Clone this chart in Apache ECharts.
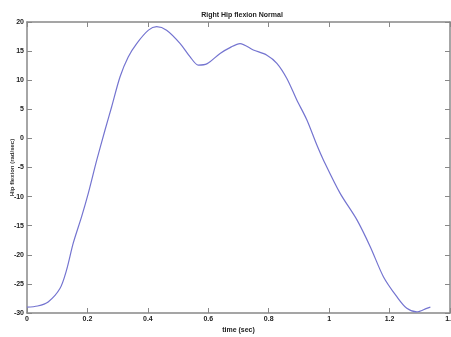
<!DOCTYPE html>
<html style="height: 100%">
<head>
    <meta charset="utf-8">
</head>
<body style="height: 100%; margin: 0">
    <div id="container" style="width: 451px; height: 337px;"></div>
    <script type="text/javascript" src="https://cdn.jsdelivr.net/npm/echarts@6/dist/echarts.min.js"></script>
    <script type="text/javascript">
        // values
        var time = [0, 0.035, 0.07, 0.109, 0.131, 0.153, 0.181, 0.203, 0.231, 0.258, 0.28, 0.308, 0.335, 0.363,
            0.402, 0.429, 0.462, 0.507, 0.54, 0.567, 0.595, 0.639, 0.672, 0.705, 0.749, 0.794, 0.827, 0.86,
            0.893, 0.926, 0.959, 0.981, 1.036, 1.092, 1.136, 1.18, 1.224, 1.257, 1.29, 1.323, 1.335];
        var flexion = [-29.0, -28.8, -28.1, -25.8, -22.6, -18.0, -13.4, -9.4, -3.7, 1.4, 5.4, 10.6, 14.0, 16.3,
            18.6, 19.2, 18.6, 16.3, 14.0, 12.6, 12.8, 14.6, 15.6, 16.3, 15.2, 14.3, 12.9, 10.3,
            6.6, 3.2, -1.1, -3.7, -9.4, -14.0, -18.6, -23.8, -27.2, -29.2, -29.8, -29.2, -29.0];
        var xTicks = [0, 0.2, 0.4, 0.6, 0.8, 1, 1.2, 1.4];
        var yTicks = [-30, -25, -20, -15, -10, -5, 0, 5, 10, 15, 20];

        var dom = document.getElementById("container");
        var myChart = echarts.init(dom);

        var points = [];
        for (var i = 0; i < time.length; i++) {
            points.push([time[i], flexion[i]]);
        }

        var lineColor = '#888';
        var tickFont = { fontSize: 7, fontWeight: 'bold', color: '#222', fontFamily: 'Liberation Sans' };

        option = {
            animation: false,
            backgroundColor: '#fff',
            title: {
                text: 'Right Hip flexion Normal',
                left: 237,
                top: 7,
                textAlign: 'center',
                textStyle: { fontSize: 7, fontWeight: 'bold', color: '#222', fontFamily: 'Liberation Sans' }
            },
            grid: { left: 27, right: 1, top: 22, bottom: 24, outerBoundsMode: 'none' },
            xAxis: [
                {
                    type: 'value',
                    min: xTicks[0],
                    max: xTicks[xTicks.length - 1],
                    interval: 0.2,
                    name: 'time (sec)',
                    nameLocation: 'middle',
                    nameGap: 14,
                    nameMoveOverlap: false,
                    nameTextStyle: tickFont,
                    axisLine: { onZero: false, lineStyle: { color: lineColor, width: 1.5 } },
                    axisTick: { inside: true, length: 5, lineStyle: { color: lineColor } },
                    axisLabel: Object.assign({ margin: 3 }, tickFont),
                    splitLine: { show: false }
                },
                {
                    type: 'value',
                    position: 'top',
                    min: xTicks[0],
                    max: xTicks[xTicks.length - 1],
                    interval: 0.2,
                    axisLine: { show: true, onZero: false, lineStyle: { color: lineColor, width: 1.5 } },
                    axisTick: { inside: true, length: 5, lineStyle: { color: lineColor } },
                    axisLabel: { show: false },
                    splitLine: { show: false }
                }
            ],
            yAxis: [
                {
                    type: 'value',
                    min: yTicks[0],
                    max: yTicks[yTicks.length - 1],
                    interval: 5,
                    name: 'Hip flexion (rad/sec)',
                    nameLocation: 'middle',
                    nameGap: 12,
                    nameMoveOverlap: false,
                    nameTextStyle: { fontSize: 6, fontWeight: 'bold', color: '#333', fontFamily: 'Liberation Sans' },
                    axisLine: { show: true, onZero: false, lineStyle: { color: lineColor, width: 1.5 } },
                    axisTick: { show: true, inside: true, length: 5, lineStyle: { color: lineColor } },
                    axisLabel: Object.assign({ margin: 3 }, tickFont),
                    splitLine: { show: false }
                },
                {
                    type: 'value',
                    position: 'right',
                    min: yTicks[0],
                    max: yTicks[yTicks.length - 1],
                    interval: 5,
                    axisLine: { show: true, onZero: false, lineStyle: { color: lineColor, width: 1.5 } },
                    axisTick: { show: true, inside: true, length: 5, lineStyle: { color: lineColor } },
                    axisLabel: { show: false },
                    splitLine: { show: false }
                }
            ],
            series: [
                {
                    name: 'flexion',
                    type: 'line',
                    data: points,
                    smooth: 0.3,
                    showSymbol: false,
                    lineStyle: { color: '#7474d0', width: 1.2 }
                }
            ]
        };
        if (option && typeof option === "object") {
            myChart.setOption(option, true);
        }
    </script>
</body>
</html>
